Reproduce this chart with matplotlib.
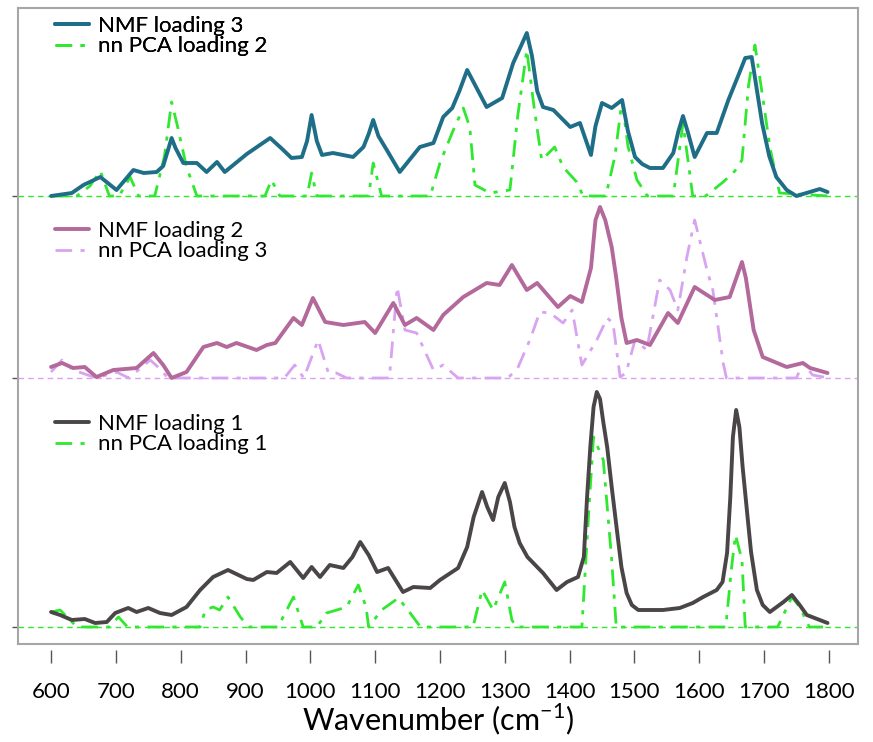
import matplotlib.pyplot as plt
from matplotlib import font_manager

# Fonte parecida com Calibri
nomes = {f.name for f in font_manager.fontManager.ttflist}
fonte = "Lato" if "Lato" in nomes else "DejaVu Sans"
plt.rcParams['font.family'] = [fonte, 'DejaVu Sans']

# ---- dados (altura acima da linha de base) ----
# painel de cima: NMF loading 3 / nn PCA loading 2
x_nmf3 = [600, 632, 650, 676, 701, 727, 743, 763, 773, 780, 786, 792, 804, 825, 840, 856,
          868, 902, 920, 938, 955, 971, 987, 995, 1002, 1010, 1018, 1035, 1066, 1082, 1090, 1097,
          1105, 1118, 1138, 1169, 1190, 1205, 1219, 1230, 1242, 1255, 1272, 1296, 1313, 1325,
          1334, 1342, 1350, 1359, 1375, 1401, 1416, 1433, 1440, 1450, 1465, 1481, 1490, 1501,
          1512, 1524, 1544, 1560, 1568, 1575, 1582, 1593, 1612, 1627, 1645, 1660, 1671, 1681,
          1697, 1708, 1719, 1735, 1750, 1786, 1798]
y_nmf3 = [0, 3, 11, 19, 6, 26, 23, 24, 30, 45, 58, 48, 33, 33, 24, 34,
          24, 42, 50, 58, 48, 38, 39, 55, 81, 55, 41, 43, 39, 49, 62, 76,
          60, 46, 24, 49, 53, 79, 88, 105, 126, 110, 89, 98, 133, 150,
          163, 140, 105, 89, 86, 69, 73, 41, 70, 93, 88, 96, 65, 39,
          32, 28, 28, 43, 65, 80, 65, 39, 63, 63, 96, 120, 138, 139,
          73, 40, 19, 6, 0, 7, 4]
x_pca2 = [600, 640, 660, 676, 690, 705, 722, 735, 760, 775, 786, 795, 809, 825, 930, 940,
          953, 995, 1002, 1010, 1090, 1097, 1110, 1185, 1200, 1220, 1236, 1246, 1254, 1277,
          1308, 1320, 1334, 1345, 1357, 1377, 1390, 1411, 1421, 1456, 1470, 1481, 1490, 1504,
          1520, 1560, 1575, 1590, 1610, 1637, 1655, 1666, 1676, 1686, 1700, 1709, 1724, 1800]
y_pca2 = [0, 0, 10, 25, 0, 0, 19, 0, 0, 40, 94, 70, 29, 0, 0, 16,
          0, 0, 23, 0, 0, 33, 0, 0, 33, 65, 88, 69, 11, 3,
          6, 80, 146, 90, 36, 49, 29, 14, 0, 0, 40, 96, 50, 16,
          0, 0, 73, 0, 0, 14, 25, 36, 110, 151, 90, 49, 3, 0]

# painel do meio: NMF loading 2 / nn PCA loading 3
x_nmf2 = [600, 617, 634, 652, 670, 696, 732, 758, 773, 786, 809, 835, 856, 871, 886, 917,
          933, 946, 974, 987, 1004, 1023, 1051, 1084, 1100, 1128, 1146, 1164, 1190, 1205,
          1236, 1272, 1292, 1311, 1334, 1350, 1382, 1401, 1419, 1433, 1440, 1447, 1455, 1465,
          1472, 1480, 1488, 1504, 1524, 1552, 1567, 1593, 1624, 1647, 1660, 1666, 1672, 1684,
          1698, 1735, 1760, 1771, 1798]
y_nmf2 = [11, 15, 10, 11, 1, 8, 10, 25, 13, 0, 6, 31, 35, 31, 35, 28,
          33, 35, 60, 53, 80, 56, 53, 56, 45, 75, 53, 60, 48, 63,
          81, 95, 93, 113, 88, 95, 71, 82, 76, 110, 158, 171, 158, 131,
          100, 60, 35, 38, 33, 65, 55, 91, 78, 81, 105, 116, 100, 48,
          21, 11, 15, 10, 5]
x_pca3 = [600, 617, 634, 670, 701, 720, 753, 770, 780, 960, 976, 990, 1012, 1028, 1040, 1056,
          1122, 1134, 1146, 1164, 1190, 1205, 1228, 1305, 1320, 1340, 1354, 1370, 1390, 1404,
          1419, 1442, 1458, 1467, 1478, 1487, 1501, 1519, 1539, 1555, 1567, 1581, 1593, 1612,
          1621, 1637, 1642, 1750, 1760, 1775, 1800]
y_pca3 = [6, 18, 8, 0, 6, 0, 18, 8, 0, 0, 13, 0, 38, 5, 5, 0,
          0, 91, 48, 45, 8, 13, 0, 0, 10, 40, 66, 65, 55, 68,
          13, 38, 60, 55, 1, 5, 38, 28, 98, 88, 68, 121, 158, 108,
          88, 15, 0, 0, 15, 3, 0]

# painel de baixo: NMF loading 1 / nn PCA loading 1
x_nmf1 = [600, 614, 632, 652, 668, 686, 699, 719, 732, 750, 768, 786, 809, 830, 850, 873,
          902, 912, 933, 948, 969, 989, 1002, 1015, 1030, 1051, 1065, 1077, 1090, 1103, 1120,
          1143, 1159, 1185, 1200, 1228, 1242, 1252, 1265, 1273, 1282, 1290, 1300, 1308, 1315,
          1323, 1335, 1359, 1380, 1396, 1413, 1422, 1427, 1432, 1437, 1442, 1447, 1452, 1458,
          1465, 1473, 1480, 1488, 1496, 1506, 1544, 1570, 1590, 1606, 1627, 1636, 1643, 1648,
          1652, 1657, 1662, 1667, 1674, 1680, 1689, 1698, 1709, 1730, 1743, 1755, 1766, 1798]
y_nmf1 = [15, 12, 7, 8, 4, 5, 14, 19, 15, 19, 14, 12, 20, 37, 50, 57,
          48, 47, 55, 54, 65, 49, 60, 50, 62, 59, 70, 85, 72, 55, 59,
          35, 40, 39, 47, 59, 80, 110, 135, 120, 107, 130, 144, 125, 100,
          84, 70, 54, 37, 45, 50, 70, 130, 180, 220, 235, 228, 205, 180,
          140, 97, 60, 34, 22, 17, 17, 19, 24, 30, 37, 45, 74, 130,
          190, 217, 200, 160, 114, 75, 37, 22, 15, 25, 32, 22, 12, 4]
x_pca1 = [600, 614, 640, 690, 704, 718, 830, 838, 850, 860, 873, 892, 905, 950, 974, 989,
          1010, 1025, 1041, 1056, 1074, 1086, 1090, 1110, 1136, 1154, 1170, 1251, 1265, 1282,
          1300, 1311, 1318, 1419, 1430, 1437, 1452, 1465, 1472, 1641, 1650, 1656, 1666, 1671,
          1721, 1743, 1755, 1770, 1800]
y_pca1 = [15, 17, 0, 0, 10, 0, 0, 17, 20, 17, 30, 10, 0, 0, 30, 0,
          0, 14, 17, 20, 42, 20, 0, 17, 29, 14, 0, 0, 37, 17,
          45, 7, 0, 0, 120, 190, 167, 67, 0, 0, 60, 92, 67, 0,
          0, 30, 20, 0, 0]

deslocamentos = [0, 249, 431]
xticks = list(range(600, 1801, 100))

verde = "#2fe82f"
teal = "#1f6e87"
rosa = "#b3699b"
lilas = "#d8a3f0"
cinza = "#4a4648"
borda = "#a6a6a6"

fig = plt.figure(figsize=(8.73, 7.42), dpi=100)
ax = fig.add_axes([18/873, 1 - 644/742, 840/873, 636/742])

dd = (0, (6, 3, 1.5, 3))

paineis = [
  (x_nmf1, y_nmf1, x_pca1, y_pca1, cinza, verde, verde, "NMF loading 1", "nn PCA loading 1"),
  (x_nmf2, y_nmf2, x_pca3, y_pca3, rosa, lilas, lilas, "NMF loading 2", "nn PCA loading 3"),
  (x_nmf3, y_nmf3, x_pca2, y_pca2, teal, verde, verde, "NMF loading 3", "nn PCA loading 2"),
]
legendas = []
for (xn, yn, xp, yp, cn, cp, cb, ln, lp), off in zip(paineis, deslocamentos):
  ax.axhline(off, color=cb, lw=1.0, ls=(0, (4, 3)), zorder=1)
  l2, = ax.plot(xp, [v + off for v in yp], color=cp, lw=2.0, ls=dd, zorder=2)
  l1, = ax.plot(xn, [v + off for v in yn], color=cn, lw=2.8, zorder=3,
                solid_capstyle='round', solid_joinstyle='round')
  legendas.append((l1, l2, ln, lp))

# posições das legendas (y do topo em fração dos eixos)
topos = [1 - (414 - 8)/636, 1 - (221 - 8)/636, 1 - (16 - 8)/636]
for (l1, l2, ln, lp), topo in zip(legendas, topos):
  leg = ax.legend([l1, l2], [ln, lp], loc='upper left', bbox_to_anchor=(0.044, topo),
                  frameon=False, fontsize=16, handlelength=1.55, handletextpad=0.4,
                  labelspacing=0.02, borderaxespad=0, borderpad=0)
  ax.add_artist(leg)

ax.set_xlim(549, 1845)
ax.set_ylim(-17, 619)
ax.set_xticks(xticks)
ax.set_yticks(deslocamentos)
ax.set_yticklabels([])
ax.tick_params(axis='x', direction='out', length=9, width=1.0, color="#555555",
               labelsize=16, pad=14)
ax.tick_params(axis='y', direction='out', length=4, width=1.0, color="#555555")
for s in ax.spines.values():
  s.set_color(borda)
  s.set_linewidth(1.5)
ax.spines['bottom'].set_position(('outward', 4))
ax.spines['bottom'].set_visible(False)
ax.plot([0, 1], [0, 0], transform=ax.transAxes, color=borda, lw=1.5, clip_on=False)
ax.set_xlabel(r"Wavenumber (cm$^{\mathregular{-1}}$)", fontsize=22, labelpad=0)

fig.savefig("out.png", dpi=100)
